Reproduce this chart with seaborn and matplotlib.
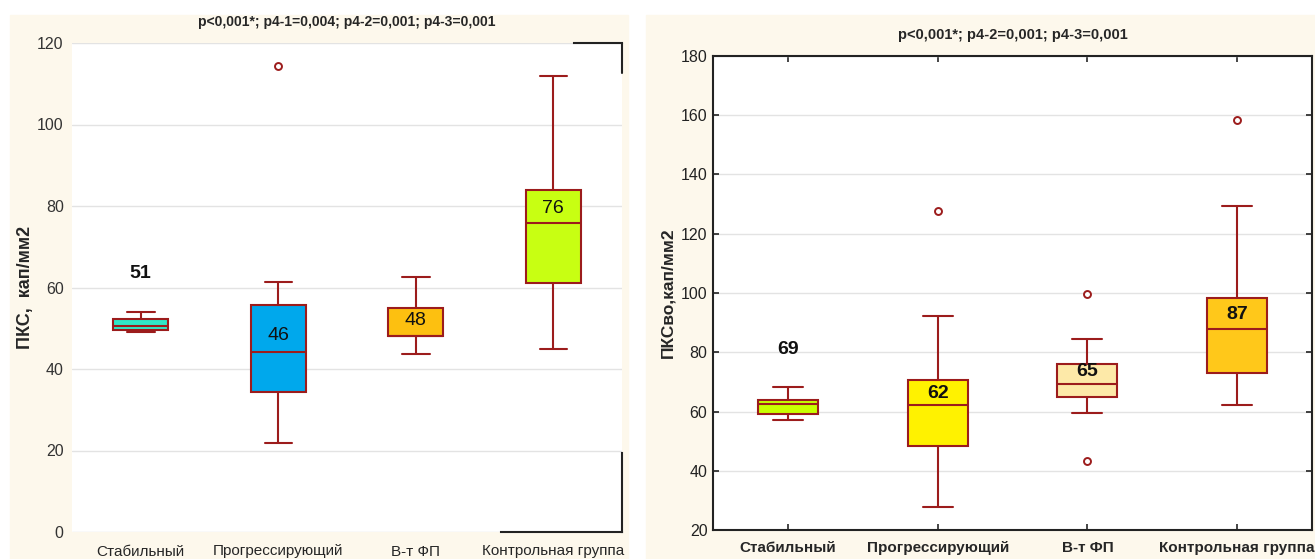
import numpy as np
import pandas as pd
import matplotlib
matplotlib.use('Agg')
import matplotlib.pyplot as plt
from matplotlib.patches import Rectangle
import seaborn as sns

sns.set_style('white')
plt.rcParams['font.family'] = ['Liberation Sans Narrow', 'Liberation Sans', 'DejaVu Sans']

# Группы
groups = ['Стабильный', 'Прогрессирующий', 'В-т ФП', 'Контрольная группа']

# ПКС: min, Q1, медиана, Q3, max (без выбросов)
pks_stats = [
    [49.1, 49.5, 50.6, 52.3, 54.0],
    [21.8, 34.4, 44.1, 55.8, 61.3],
    [43.7, 48.0, 48.2, 55.0, 62.6],
    [45.0, 61.2, 75.9, 84.0, 112.0],
]
pks_out_group = ['Прогрессирующий']
pks_out_value = [114.4]
pks_labels = ['51', '46', '48', '76']
pks_label_y = [63.5, 48.1, 52.0, 79.4]
pks_label_bold = [True, False, False, False]
pks_colors = ['#2ee8c8', '#00a8ec', '#fdc010', '#c8ff12']

# ПКСво
pksvo_stats = [
    [57.0, 59.0, 62.4, 64.0, 68.3],
    [27.8, 48.4, 62.2, 70.6, 92.2],
    [59.5, 65.0, 69.2, 76.0, 84.5],
    [62.2, 73.0, 88.0, 98.2, 129.4],
]
pksvo_out_group = ['Прогрессирующий', 'В-т ФП', 'В-т ФП', 'Контрольная группа']
pksvo_out_value = [127.7, 99.6, 43.3, 158.3]
pksvo_labels = ['69', '62', '65', '87']
pksvo_label_y = [80.8, 66.1, 73.6, 92.8]
pksvo_colors = ['#c8ff00', '#fff200', '#fde9a8', '#ffc81a']

title_left = 'p<0,001*; p4-1=0,004; p4-2=0,001; p4-3=0,001'
title_right = 'p<0,001*; p4-2=0,001; p4-3=0,001'

dark_red = '#9c1c1c'
cream = '#fdf8ec'


def long_df(stats):
    rows = []
    for g, vals in zip(groups, stats):
        for v in vals:
            rows.append({'group': g, 'value': v})
    return pd.DataFrame(rows)


def draw_box(ax, stats, colors, out_g, out_v):
    df = long_df(stats)
    sns.boxplot(data=df, x='group', y='value', hue='group', order=groups,
                hue_order=groups, palette=colors, saturation=1, width=0.4,
                whis=(0, 100), linecolor=dark_red, linewidth=1.5,
                legend=False, ax=ax)
    odf = pd.DataFrame({'group': out_g, 'value': out_v})
    sns.stripplot(data=odf, x='group', y='value', order=groups, jitter=False,
                  marker='o', size=5, color='white', edgecolor=dark_red,
                  linewidth=1.4, ax=ax, zorder=5)


fig = plt.figure(figsize=(13.15, 5.59), dpi=100)
fig.patch.set_facecolor('white')
fig.add_artist(Rectangle((10 / 1315, 0), (628 - 10) / 1315, 544 / 559,
                         transform=fig.transFigure, color=cream, zorder=0))
fig.add_artist(Rectangle((646 / 1315, 0), (1315 - 646) / 1315, 544 / 559,
                         transform=fig.transFigure, color=cream, zorder=0))

# ---------- левая панель ----------
ax1 = fig.add_axes([72 / 1315, 27 / 559, 550 / 1315, 489 / 559])
ax1.set_facecolor('white')
draw_box(ax1, pks_stats, pks_colors, pks_out_group, pks_out_value)
ax1.set_xlim(-0.5, 3.5)
ax1.set_ylim(0, 120)
ax1.set_yticks([0, 20, 40, 60, 80, 100, 120])
ax1.yaxis.grid(True, color='#e3e3e3', linewidth=1)
ax1.set_axisbelow(True)
ax1.spines['left'].set_visible(False)
ax1.spines['top'].set_bounds(3.15, 3.5)
ax1.spines['bottom'].set_bounds(2.62, 3.5)
ax1.spines['right'].set_bounds(0, 19.4)
for s in ['top', 'bottom', 'right']:
    ax1.spines[s].set_color('#222222')
    ax1.spines[s].set_linewidth(1.5)
ax1.axvline(3.5, ymin=112.6 / 120, ymax=1, color='#222222', lw=1.5, clip_on=False)
ax1.tick_params(axis='y', length=2, labelsize=11.5, colors='#333333', pad=4)
ax1.tick_params(axis='x', length=0, labelsize=11, pad=9)
ax1.set_xlabel('')
ax1.set_ylabel('ПКС,  кап/мм2', fontsize=13, fontweight='bold',
               family=['Liberation Sans', 'DejaVu Sans'], labelpad=2)
ax1.set_title(title_left, fontsize=10, fontweight='bold', pad=12)
for i, (t, y, b) in enumerate(zip(pks_labels, pks_label_y, pks_label_bold)):
    ax1.text(i, y, t, ha='center', va='center', fontsize=14,
             fontweight='bold' if b else 'normal', color='#111111', zorder=6)

# ---------- правая панель ----------
ax2 = fig.add_axes([713 / 1315, 29 / 559, 599 / 1315, 474 / 559])
ax2.set_facecolor('white')
draw_box(ax2, pksvo_stats, pksvo_colors, pksvo_out_group, pksvo_out_value)
ax2.set_xlim(-0.5, 3.5)
ax2.set_ylim(20, 180)
ax2.set_yticks(np.arange(20, 181, 20))
ax2.yaxis.grid(True, color='#e3e3e3', linewidth=1)
ax2.set_axisbelow(True)
for s in ['top', 'bottom', 'left', 'right']:
    ax2.spines[s].set_visible(True)
    ax2.spines[s].set_color('#222222')
    ax2.spines[s].set_linewidth(1.5)
ax2.tick_params(axis='both', direction='in', length=4, width=1.2,
                top=True, right=True, bottom=True, left=True)
ax2.tick_params(axis='y', labelsize=11.5, colors='#222222', pad=4)
ax2.tick_params(axis='x', labelsize=11, pad=8)
for lab in ax2.get_xticklabels():
    lab.set_fontweight('bold')
ax2.set_xlabel('')
ax2.set_ylabel('ПКСво,кап/мм2', fontsize=12.5, fontweight='bold',
               family=['Liberation Sans', 'DejaVu Sans'], labelpad=4)
ax2.set_title(title_right, fontsize=10.5, fontweight='bold', pad=12)
for i, (t, y) in enumerate(zip(pksvo_labels, pksvo_label_y)):
    ax2.text(i, y, t, ha='center', va='center', fontsize=14,
             fontweight='bold', color='#111111', zorder=6)

fig.savefig('out.png', dpi=100)
